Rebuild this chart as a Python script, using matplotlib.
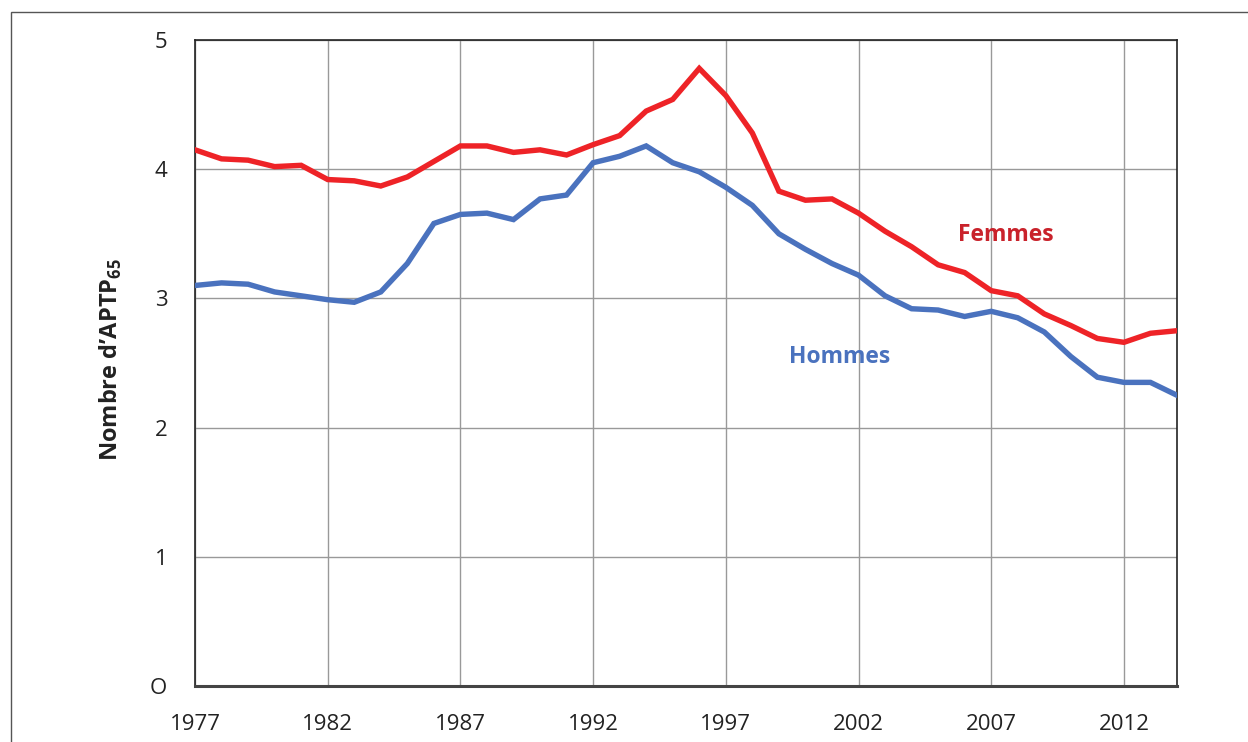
import matplotlib
matplotlib.use("Agg")
import matplotlib.pyplot as plt
from matplotlib.patches import Rectangle

years = list(range(1977, 2015))
femmes = [4.15, 4.08, 4.07, 4.02, 4.03, 3.92, 3.91, 3.87, 3.94, 4.06,
          4.18, 4.18, 4.13, 4.15, 4.11, 4.19, 4.26, 4.45, 4.54, 4.78,
          4.57, 4.28, 3.83, 3.76, 3.77, 3.66, 3.52, 3.40, 3.26, 3.20,
          3.06, 3.02, 2.88, 2.79, 2.69, 2.66, 2.73, 2.75]
hommes = [3.10, 3.12, 3.11, 3.05, 3.02, 2.99, 2.97, 3.05, 3.27, 3.58,
          3.65, 3.66, 3.61, 3.77, 3.80, 4.05, 4.10, 4.18, 4.05, 3.98,
          3.86, 3.72, 3.50, 3.38, 3.27, 3.18, 3.02, 2.92, 2.91, 2.86,
          2.90, 2.85, 2.74, 2.55, 2.39, 2.35, 2.35, 2.25]
xticks = [1977, 1982, 1987, 1992, 1997, 2002, 2007, 2012]
yticks = [0, 1, 2, 3, 4, 5]

plt.rcParams['font.family'] = ['Open Sans', 'DejaVu Sans']
plt.rcParams['mathtext.fontset'] = 'custom'
plt.rcParams['mathtext.rm'] = 'Open Sans'
plt.rcParams['mathtext.bf'] = 'Open Sans:bold'

fig = plt.figure(figsize=(12.48, 7.42), dpi=100)
W, H = 1248, 742
ax = fig.add_axes([195 / W, 1 - 686 / H, (1177 - 195) / W, (686 - 40) / H])

# outer frame
fig.patches.append(Rectangle((11 / W, -0.1), 1.2, 1 - 12 / H + 0.1,
                             transform=fig.transFigure, fill=False,
                             edgecolor='#555555', linewidth=1.0))

ax.plot(years, femmes, color='#EE2327', lw=3.9, solid_joinstyle='miter', zorder=3)
ax.plot(years, hommes, color='#4A72BE', lw=3.9, solid_joinstyle='miter', zorder=3)

ax.set_xlim(1977, 2014)
ax.set_ylim(0, 5)
ax.set_xticks(xticks)
ax.set_yticks(yticks)
ax.set_xticklabels([str(x) for x in xticks])
ax.set_yticklabels(['O' if y == 0 else str(y) for y in yticks])
ax.tick_params(length=0, labelsize=16, labelcolor='#222222')
ax.tick_params(axis='x', pad=20)
ax.tick_params(axis='y', pad=20)
ax.grid(True, color='#999999', lw=1.0, zorder=1)
for s in ['left', 'right', 'top']:
    ax.spines[s].set_color('#222222')
    ax.spines[s].set_linewidth(1.2)
ax.spines['bottom'].set_color('#444444')
ax.spines['bottom'].set_linewidth(2.2)

ax.set_ylabel(r'Nombre d’APTP$_{\mathbf{65}}$', fontsize=17, fontweight='bold',
              color='#222222')
ax.yaxis.set_label_coords((124 - 195) / 982, (686 - 360) / 646)

ax.text(2007.56, 3.49, 'Femmes', color='#C9222B', fontsize=16.5, fontweight='bold',
        ha='center', va='center')
ax.text(2001.3, 2.55, 'Hommes', color='#4A72BE', fontsize=16.5, fontweight='bold',
        ha='center', va='center')

fig.savefig('out.png', dpi=100)
